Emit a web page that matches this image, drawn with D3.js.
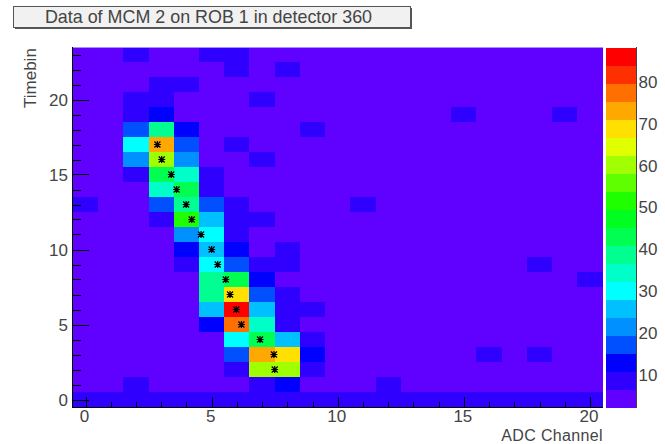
<!DOCTYPE html>
<html><head><meta charset="utf-8">
<script src="https://cdnjs.cloudflare.com/ajax/libs/d3/7.8.5/d3.min.js"></script>
<style>html,body{margin:0;padding:0;background:#fff}svg{display:block}
text{font-family:"Liberation Sans",Arial,sans-serif;fill:#444}</style>
</head><body><svg id="c" width="665" height="444"></svg>
<script>
const titleText = "Data of MCM 2 on ROB 1 in detector 360";
const xLabel = "ADC Channel";
const yLabel = "Timebin";
const palette = ["#6000ff","#3000ff","#0000ff","#0050ff","#0090ff","#00c0ff","#00ffff","#00ffc8","#00ff90","#00ff50",
  "#00ff20","#20ff00","#60ff00","#a0ff00","#e0ff00","#ffe000","#ffa800","#ff7000","#ff3000","#ff0000"];
const zRange = [2.1, 88.3];
const zTicks = [10,20,30,40,50,60,70,80];
const xTicks = [0,5,10,15,20];
const yTicks = [0,5,10,15,20];
// rows from timebin 0 upward; columns ADC channel 0..20
const counts = [
/* 0*/[8,8,8,8,8,8,8,8,8,8,8,8,8,8,8,8,8,8,8,8,8],
/* 1*/[4,4,8,4,4,4,4,8,13,4,4,4,8,4,4,4,4,4,4,4,4],
/* 2*/[4,4,4,4,4,4,8,60,60,8,4,4,4,4,4,4,4,4,4,4,4],
/* 3*/[4,4,4,4,4,4,17,73,69,13,4,4,4,4,4,4,8,4,8,4,4],
/* 4*/[4,4,4,4,4,4,30,43,26,8,4,4,4,4,4,4,4,4,4,4,4],
/* 5*/[4,4,4,4,4,13,77,34,8,4,4,4,4,4,4,4,4,4,4,4,4],
/* 6*/[4,4,4,4,4,26,86,26,8,8,4,4,4,4,4,4,4,4,4,4,4],
/* 7*/[4,4,4,4,4,39,69,17,8,4,4,4,4,4,4,4,4,4,4,4,4],
/* 8*/[4,4,4,4,4,39,43,13,4,4,4,4,4,4,4,4,4,4,4,4,8],
/* 9*/[4,4,4,4,8,30,17,8,8,4,4,4,4,4,4,4,4,4,8,4,4],
/*10*/[4,4,4,4,13,26,13,4,8,4,4,4,4,4,4,4,4,4,4,4,4],
/*11*/[4,4,4,4,21,30,8,4,4,4,4,4,4,4,4,4,4,4,4,4,4],
/*12*/[4,4,4,8,52,26,8,8,4,4,4,4,4,4,4,4,4,4,4,4,4],
/*13*/[8,4,4,17,39,17,8,4,4,4,4,8,4,4,4,4,4,4,4,4,4],
/*14*/[4,4,4,34,43,8,4,4,4,4,4,4,4,4,4,4,4,4,4,4,4],
/*15*/[4,4,8,43,34,8,4,4,4,4,4,4,4,4,4,4,4,4,4,4,4],
/*16*/[4,4,21,60,21,4,4,8,4,4,4,4,4,4,4,4,4,4,4,4,4],
/*17*/[4,4,30,73,17,4,8,4,4,4,4,4,4,4,4,4,4,4,4,4,4],
/*18*/[4,4,17,39,13,4,4,4,4,8,4,4,4,4,4,4,4,4,4,4,4],
/*19*/[4,4,8,13,4,4,4,4,4,4,4,4,4,4,4,8,4,4,4,8,4],
/*20*/[4,4,8,8,4,4,4,8,4,4,4,4,4,4,4,4,4,4,4,4,4],
/*21*/[4,4,4,8,8,4,4,4,4,4,4,4,4,4,4,4,4,4,4,4,4],
/*22*/[4,4,4,4,4,4,8,4,8,4,4,4,4,4,4,4,4,4,4,4,4],
/*23*/[4,4,8,4,4,8,8,4,4,4,4,4,4,4,4,4,4,4,4,4,4]
];
const hitX = [7.5,7.47,6.92,6.18,5.98,5.73,5.56,5.24,5.0,4.58,4.21,3.99,3.61,3.40,3.02,2.85];
const hitT = [2,3,4,5,6,7,8,9,10,11,12,13,14,15,16,17];

const svg = d3.select("#c");
const x = d3.scaleLinear().domain([-0.5,20.5]).range([72.9,602.6]);
const y = d3.scaleLinear().domain([-0.5,23.5]).range([407,47]);
const color = d3.scaleQuantize().domain(zRange).range(palette);
const zy = d3.scaleLinear().domain(zRange).range([407.5,47.5]);

// title box
const tb = {x:13,y:6,w:397,h:21};
svg.append("rect").attr("x",tb.x+2).attr("y",tb.y+2).attr("width",tb.w).attr("height",tb.h).attr("fill","#555");
svg.append("rect").attr("x",tb.x+.5).attr("y",tb.y+.5).attr("width",tb.w).attr("height",tb.h).attr("fill","#f1f1f1").attr("stroke","#555");
svg.append("text").attr("x",tb.x+tb.w/2-3).attr("y",23).attr("text-anchor","middle").attr("font-size",17.9).text(titleText);

// cells
const cells = counts.flatMap((r,t)=>r.map((v,c)=>({c,t,v})));
svg.append("rect").attr("x",72).attr("y",47).attr("width",531).attr("height",361).attr("fill",palette[0]);
svg.append("g").attr("shape-rendering","crispEdges").selectAll("rect").data(cells).join("rect")
  .attr("x",d=>x(d.c-.5)).attr("width",d=>x(d.c+.5)-x(d.c-.5))
  .attr("y",d=>y(d.t+.5)).attr("height",d=>y(d.t-.5)-y(d.t+.5))
  .attr("fill",d=>color(d.v));
svg.append("line").attr("x1",72).attr("x2",603).attr("y1",47.5).attr("y2",47.5).attr("stroke","#a98cff");

// markers
svg.append("g").selectAll("path").data(hitX.map((v,i)=>[v,hitT[i]])).join("path")
  .attr("transform",d=>`translate(${x(d[0])},${y(d[1])})`)
  .attr("d","M-3,-3L3,3M3,-3L-3,3M-3.5,0H3.5M0,-3.5V3.5")
  .attr("stroke","#000").attr("stroke-width",1.2).attr("fill","none");

// axes
const ax = svg.append("g").attr("stroke","#000").attr("fill","none");
ax.append("line").attr("x1",72.5).attr("x2",72.5).attr("y1",47).attr("y2",408);
ax.append("line").attr("x1",72).attr("x2",603).attr("y1",407.5).attr("y2",407.5);
const isMajor = (a,v)=>a.includes(v);
d3.range(0,21).forEach(v=>{
  const px=Math.round(x(v))+.5;
  ax.append("line").attr("x1",px).attr("x2",px).attr("y1",407).attr("y2",isMajor(xTicks,v)?397:402);
});
d3.range(0,24).forEach(v=>{
  const py=Math.round(y(v))+.5;
  ax.append("line").attr("x1",72).attr("x2",isMajor(yTicks,v)?89:81).attr("y1",py).attr("y2",py);
});
svg.selectAll(".xt").data(xTicks).join("text").attr("x",d=>x(d)-1).attr("y",422)
  .attr("text-anchor","middle").attr("font-size",17).text(d=>d);
svg.selectAll(".yt").data(yTicks).join("text").attr("x",68).attr("y",d=>y(d)+6)
  .attr("text-anchor","end").attr("font-size",17).text(d=>d);
svg.append("text").attr("transform","translate(36,108) rotate(-90)").attr("font-size",17).text(yLabel);
svg.append("text").attr("x",603).attr("y",440.5).attr("text-anchor","end").attr("font-size",16).attr("letter-spacing",0.35).text(xLabel);

// colour bar
const step=(zRange[1]-zRange[0])/palette.length;
svg.append("g").attr("shape-rendering","crispEdges").selectAll("rect").data(palette).join("rect")
  .attr("x",606).attr("width",30)
  .attr("y",(d,i)=>zy(zRange[0]+(i+1)*step)).attr("height",(d,i)=>zy(zRange[0]+i*step)-zy(zRange[0]+(i+1)*step)+.5)
  .attr("fill",d=>d);
ax.append("line").attr("x1",636.5).attr("x2",636.5).attr("y1",47).attr("y2",408).attr("stroke","#444");
zTicks.forEach(v=>{
  const py=Math.round(zy(v))+.5;
  ax.append("line").attr("x1",620).attr("x2",636).attr("y1",py).attr("y2",py);
});
svg.selectAll(".zt").data(zTicks).join("text").attr("x",638.5).attr("y",d=>zy(d)+6)
  .attr("font-size",17).text(d=>d);
</script></body></html>
